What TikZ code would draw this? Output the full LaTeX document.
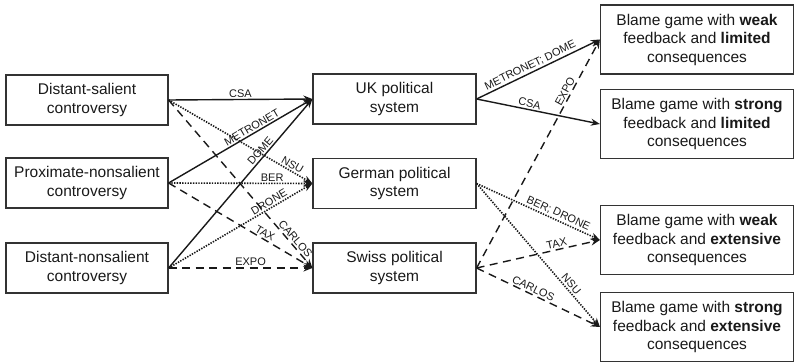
\documentclass[tikz,border=0pt]{standalone}
\usepackage{fontspec}
\setmainfont{Liberation Sans}
\usetikzlibrary{arrows.meta}
\begin{document}
\begin{tikzpicture}[x=1pt,y=-1pt,
 box/.style={draw=black!80, line width=1.2pt, align=center, font=\fontsize{15.5}{18.5}\selectfont, inner sep=0pt, text=black!90},
 lbox/.style={box, minimum width=162pt, minimum height=50pt},
 mbox/.style={box, minimum width=163pt, minimum height=50pt},
 rbox/.style={box, minimum width=193pt, minimum height=69pt},
 conn/.style={line width=1.4pt, draw=black!90, -{Stealth[length=9pt,width=7pt]}},
 dotc/.style={conn, line width=1.6pt, dash pattern=on 1.4pt off 1.3pt},
 dashc/.style={conn, dash pattern=on 8pt off 5.5pt},
 lab/.style={font=\fontsize{11}{12}\selectfont, sloped, above, inner sep=1.5pt, text=black!90}
]
\useasboundingbox (0,0) rectangle (795,364);
% left
\node[lbox] (l1) at (87,100) {Distant-salient\\controversy};
\node[lbox] (l2) at (87,183) {Proximate-nonsalient\\controversy};
\node[lbox] (l3) at (87,268) {Distant-nonsalient\\controversy};
% middle
\node[mbox] (uk) at (394.5,99) {UK political\\system};
\node[mbox] (de) at (394.5,183.5) {German political\\system};
\node[mbox] (ch) at (394.5,268) {Swiss political\\system};
% right
\node[rbox] (r1) at (697,39.5) {Blame game with \textbf{weak}\\feedback and \textbf{limited}\\consequences};
\node[rbox] (r2) at (697,124) {Blame game with \textbf{strong}\\feedback and \textbf{limited}\\consequences};
\node[rbox] (r3) at (697,240) {Blame game with \textbf{weak}\\feedback and \textbf{extensive}\\consequences};
\node[rbox] (r4) at (697,327) {Blame game with \textbf{strong}\\feedback and \textbf{extensive}\\consequences};
% left to middle
\draw[conn] (l1.east) -- node[lab,pos=0.5]{CSA} (uk.west);
\draw[conn] (l2.east) -- node[lab,pos=0.6]{METRONET} (uk.west);
\draw[conn] (l3.east) -- node[lab,pos=0.67]{DOME} (uk.west);
\draw[dotc] (l1.east) -- node[lab,pos=0.84]{NSU} (de.west);
\draw[dotc] (l2.east) -- node[lab,pos=0.72]{BER} (de.west);
\draw[dotc] (l3.east) -- node[lab,pos=0.72]{DRONE} (de.west);
\draw[dashc] (l1.east) -- node[lab,pos=0.85]{CARLOS} (ch.west);
\draw[dashc] (l2.east) -- node[lab,pos=0.65]{TAX} (ch.west);
\draw[dashc] (l3.east) -- node[lab,pos=0.57]{EXPO} (ch.west);
% middle to right
\draw[conn] (uk.east) -- node[lab,pos=0.46]{METRONET; DOME} (r1.west);
\draw[conn] (uk.east) -- node[lab,pos=0.42]{CSA} (r2.west);
\draw[dashc] (ch.east) -- node[lab,pos=0.76]{EXPO} (r1.west);
\draw[dotc] (de.east) -- node[lab,pos=0.64]{BER; DRONE} (r3.west);
\draw[dashc] (ch.east) -- node[lab,pos=0.66]{TAX} (r3.west);
\draw[dotc] (de.east) -- node[lab,pos=0.73]{NSU} (r4.west);
\draw[dashc] (ch.east) -- node[lab,pos=0.44]{CARLOS} (r4.west);
\end{tikzpicture}
\end{document}
